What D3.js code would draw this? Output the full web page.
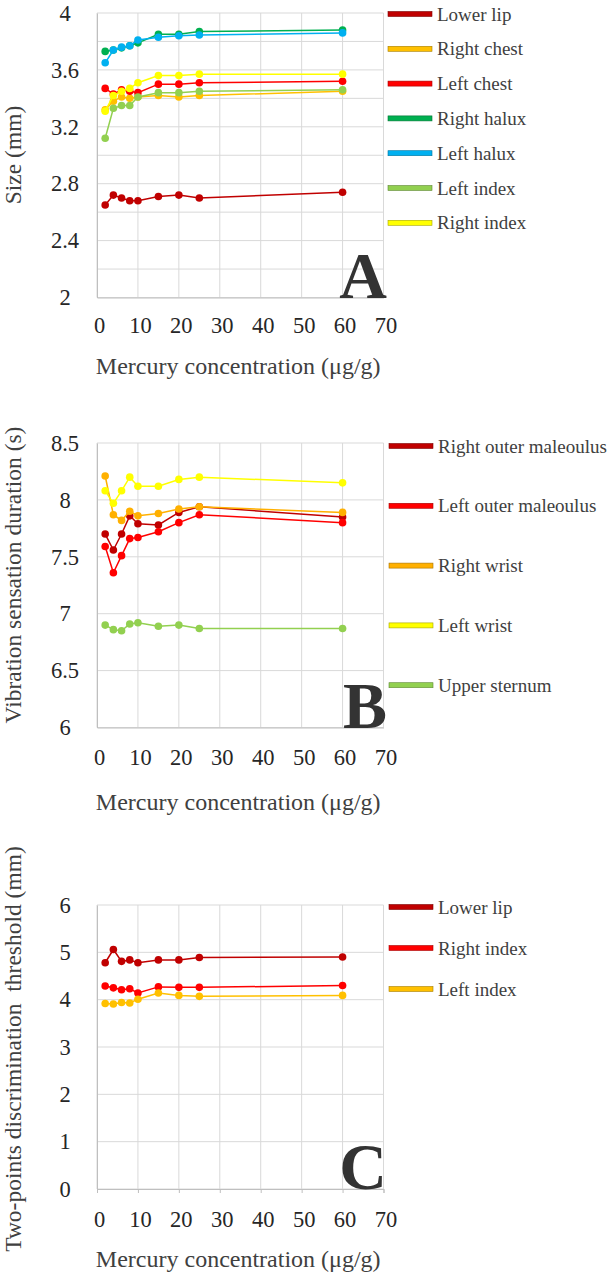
<!DOCTYPE html>
<html>
<head>
<meta charset="utf-8">
<script src="https://cdn.jsdelivr.net/npm/d3@7"></script>
<style>
  html, body { margin: 0; padding: 0; background: #fff; }
  svg { display: block; }
  svg text { font-family: "Liberation Serif", "Times New Roman", "DejaVu Serif", serif !important; }
</style>
</head>
<body>
<svg id="chart" width="608" height="1275"></svg>
<script>
// ---------- DATA ----------
const concentrations = [2, 4, 6, 8, 10, 15, 20, 25, 60];
const xTickValues = [0, 10, 20, 30, 40, 50, 60, 70];

// Panel A: Size (mm)
const sizeSeriesNames = ["Lower lip", "Right chest", "Left chest", "Right halux", "Left halux", "Left index", "Right index"];
const sizeLowerLip   = [2.65, 2.72, 2.70, 2.68, 2.68, 2.71, 2.72, 2.70, 2.74];
const sizeRightChest = [3.32, 3.38, 3.41, 3.40, 3.41, 3.42, 3.41, 3.42, 3.45];
const sizeLeftChest  = [3.47, 3.43, 3.46, 3.45, 3.44, 3.50, 3.50, 3.51, 3.52];
const sizeRightHalux = [3.73, 3.74, 3.755, 3.77, 3.79, 3.85, 3.85, 3.87, 3.88];
const sizeLeftHalux  = [3.65, 3.74, 3.76, 3.77, 3.81, 3.83, 3.84, 3.845, 3.86];
const sizeLeftIndex  = [3.12, 3.33, 3.35, 3.35, 3.41, 3.44, 3.44, 3.45, 3.46];
const sizeRightIndex = [3.31, 3.42, 3.45, 3.47, 3.51, 3.56, 3.56, 3.57, 3.57];
const sizeYTicks = [2, 2.4, 2.8, 3.2, 3.6, 4];

// Panel B: Vibration sensation duration (s)
const vibSeriesNames = ["Right outer maleoulus", "Left outer maleoulus", "Right wrist", "Left wrist", "Upper sternum"];
const vibRightMaleoulus = [7.70, 7.56, 7.70, 7.86, 7.79, 7.78, 7.89, 7.94, 7.85];
const vibLeftMaleoulus  = [7.59, 7.36, 7.51, 7.66, 7.67, 7.72, 7.80, 7.87, 7.80];
const vibRightWrist     = [8.21, 7.87, 7.82, 7.90, 7.86, 7.88, 7.92, 7.94, 7.89];
const vibLeftWrist      = [8.08, 7.97, 8.08, 8.20, 8.12, 8.12, 8.18, 8.20, 8.15];
const vibUpperSternum   = [6.90, 6.86, 6.85, 6.91, 6.92, 6.89, 6.90, 6.87, 6.87];
const vibYTicks = [6, 6.5, 7, 7.5, 8, 8.5];

// Panel C: Two-points discrimination threshold (mm)
const tpdSeriesNames = ["Lower lip", "Right index", "Left index"];
const tpdLowerLip   = [4.78, 5.06, 4.81, 4.84, 4.78, 4.84, 4.84, 4.89, 4.90];
const tpdRightIndex = [4.29, 4.25, 4.21, 4.23, 4.14, 4.27, 4.26, 4.26, 4.30];
const tpdLeftIndex  = [3.92, 3.91, 3.94, 3.93, 4.01, 4.14, 4.09, 4.07, 4.09];
const tpdYTicks = [0, 1, 2, 3, 4, 5, 6];

// ---------- STYLE ----------
const C_DARKRED = "#C00000", C_RED = "#FF0000", C_GOLD = "#FFC000", C_ORANGE = "#FFB000",
      C_GREEN = "#00B050", C_BLUE = "#00B0F0", C_LIGHTGREEN = "#92D050", C_YELLOW = "#FFFF00";
const SERIF = "'Liberation Serif', 'Times New Roman', 'DejaVu Serif', serif";

const svg = d3.select("#chart");
const X0 = 97, X1 = 383.5;
const x = d3.scaleLinear().domain([0, 70]).range([X0, X1]);
const textColor = "#262626";

function drawPanel(cfg) {
  const g = svg.append("g").attr("font-family", SERIF);
  const y = d3.scaleLinear().domain(cfg.domain).range([cfg.bottom, cfg.top]);

  // horizontal gridlines
  g.append("g").selectAll("line").data(cfg.gridY).join("line")
    .attr("x1", X0).attr("x2", X1)
    .attr("y1", d => y(d)).attr("y2", d => y(d))
    .attr("stroke", "#D9D9D9").attr("stroke-width", 1);
  // vertical gridlines
  g.append("g").selectAll("line").data(xTickValues).join("line")
    .attr("x1", d => x(d)).attr("x2", d => x(d))
    .attr("y1", cfg.top).attr("y2", cfg.bottom)
    .attr("stroke", "#D9D9D9").attr("stroke-width", 1);

  // x axis
  const xa = g.append("g").attr("transform", `translate(0,${cfg.bottom})`)
    .call(d3.axisBottom(x).tickValues(xTickValues).tickSize(cfg.xTickSize).tickPadding(cfg.xPad).tickFormat(d3.format("d")));
  xa.attr("font-family", SERIF);
  xa.select(".domain").attr("stroke", "#BFBFBF");
  xa.selectAll(".tick line").attr("stroke", "#BFBFBF");
  xa.selectAll("text").attr("font-size", 22.5).attr("fill", textColor)
    .attr("font-family", SERIF).attr("dx", "2");

  // y axis
  const ya = g.append("g").attr("transform", `translate(${X0},0)`)
    .call(d3.axisLeft(y).tickValues(cfg.yTicks).tickSize(0).tickFormat(d => String(d)));
  ya.attr("font-family", SERIF);
  ya.select(".domain").attr("stroke", "#BFBFBF");
  ya.selectAll("text").attr("font-size", 22.5).attr("fill", textColor)
    .attr("font-family", SERIF)
    .attr("text-anchor", "middle").attr("x", -32);

  // series
  const line = d3.line().x((d, i) => x(concentrations[i])).y(d => y(d));
  cfg.series.forEach(s => {
    g.append("path").datum(s.values)
      .attr("d", line).attr("fill", "none")
      .attr("stroke", s.color).attr("stroke-width", 1.5);
    g.append("g").selectAll("circle").data(s.values).join("circle")
      .attr("cx", (d, i) => x(concentrations[i])).attr("cy", d => y(d))
      .attr("r", 3.8).attr("fill", s.color);
  });

  // big panel letter
  g.append("text").attr("x", 387).attr("y", cfg.bottom)
    .attr("text-anchor", "end").attr("font-size", 66).attr("font-weight", "bold")
    .attr("fill", "#333333").text(cfg.letter);

  // axis titles
  g.append("text").attr("x", (X0 + X1) / 2 - 2).attr("y", cfg.bottom + cfg.xTitleOffset)
    .attr("text-anchor", "middle").attr("font-size", 24).attr("fill", "#404040")
    .text("Mercury concentration (μg/g)");
  g.append("text")
    .attr("transform", `translate(21,${cfg.yTitleCenter}) rotate(-90)`)
    .attr("text-anchor", "middle").attr("font-size", 23.5).attr("fill", "#404040")
    .attr("xml:space", "preserve").style("white-space", "pre")
    .text(cfg.yTitle);

  // legend
  const lg = g.append("g");
  cfg.series.forEach((s, i) => {
    const ly = cfg.legendTop + i * cfg.legendStep;
    lg.append("rect").attr("x", cfg.legendX).attr("y", ly - 2.5)
      .attr("width", 44).attr("height", 5)
      .attr("fill", s.color).attr("stroke", d3.color(s.color).darker(1.2)).attr("stroke-width", 0.6);
    lg.append("text").attr("x", cfg.legendX + 49).attr("y", ly)
      .attr("dominant-baseline", "central").attr("font-size", 19).attr("fill", "#404040")
      .text(s.name);
  });
}

drawPanel({
  domain: [2, 4], top: 13, bottom: 297.5,
  gridY: d3.range(0, 11).map(i => 2 + i * 0.2),
  yTicks: sizeYTicks, xTickSize: 0, xPad: 20, letter: "A",
  xTitleOffset: 76, yTitle: "Size (mm)", yTitleCenter: 155,
  legendX: 388, legendTop: 14, legendStep: 34.8,
  series: [
    { name: sizeSeriesNames[0], values: sizeLowerLip, color: C_DARKRED },
    { name: sizeSeriesNames[1], values: sizeRightChest, color: C_GOLD },
    { name: sizeSeriesNames[2], values: sizeLeftChest, color: C_RED },
    { name: sizeSeriesNames[3], values: sizeRightHalux, color: C_GREEN },
    { name: sizeSeriesNames[4], values: sizeLeftHalux, color: C_BLUE },
    { name: sizeSeriesNames[5], values: sizeLeftIndex, color: C_LIGHTGREEN },
    { name: sizeSeriesNames[6], values: sizeRightIndex, color: C_YELLOW }
  ]
});

drawPanel({
  domain: [6, 8.5], top: 443, bottom: 727.5,
  gridY: vibYTicks,
  yTicks: vibYTicks, xTickSize: 0, xPad: 22, letter: "B",
  xTitleOffset: 82, yTitle: "Vibration sensation duration (s)", yTitleCenter: 575,
  legendX: 389, legendTop: 446, legendStep: 59.8,
  series: [
    { name: vibSeriesNames[0], values: vibRightMaleoulus, color: C_DARKRED },
    { name: vibSeriesNames[1], values: vibLeftMaleoulus, color: C_RED },
    { name: vibSeriesNames[2], values: vibRightWrist, color: C_ORANGE },
    { name: vibSeriesNames[3], values: vibLeftWrist, color: C_YELLOW },
    { name: vibSeriesNames[4], values: vibUpperSternum, color: C_LIGHTGREEN }
  ]
});

drawPanel({
  domain: [0, 6], top: 905, bottom: 1189,
  gridY: tpdYTicks,
  yTicks: tpdYTicks, xTickSize: 4, xPad: 18, letter: "C",
  xTitleOffset: 78, yTitle: "Two-points discrimination  threshold (mm)", yTitleCenter: 1049,
  legendX: 389, legendTop: 907, legendStep: 41,
  series: [
    { name: tpdSeriesNames[0], values: tpdLowerLip, color: C_DARKRED },
    { name: tpdSeriesNames[1], values: tpdRightIndex, color: C_RED },
    { name: tpdSeriesNames[2], values: tpdLeftIndex, color: C_GOLD }
  ]
});
</script>
</body>
</html>
